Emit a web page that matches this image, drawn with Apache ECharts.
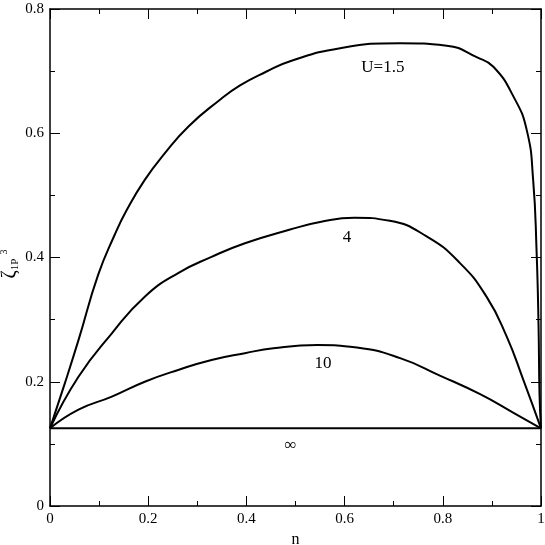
<!DOCTYPE html>
<html>
<head>
<meta charset="utf-8">
<script src="https://cdn.jsdelivr.net/npm/echarts@6/dist/echarts.min.js"></script>
<style>
  html, body { margin: 0; padding: 0; background: #fff; }
  #chart { width: 545px; height: 545px; }
</style>
</head>
<body>
<div id="chart"></div>
<script>
// U = 1.5
const u15N    = [0, 0.03, 0.058, 0.098, 0.132, 0.156, 0.193, 0.234, 0.282, 0.343, 0.387, 0.44, 0.489, 0.591, 0.713, 0.808, 0.87, 0.903, 0.944, 0.971, 0.984, 0.991, 0.995, 0.997, 1];
const u15Zeta = [0.125, 0.197, 0.267, 0.372, 0.437, 0.476, 0.525, 0.568, 0.611, 0.652, 0.677, 0.699, 0.716, 0.737, 0.745, 0.741, 0.722, 0.707, 0.659, 0.605, 0.525, 0.41, 0.29, 0.18, 0.125];
// U = 4
const u4N    = [0, 0.058, 0.126, 0.193, 0.261, 0.329, 0.397, 0.489, 0.55, 0.62, 0.692, 0.767, 0.835, 0.889, 0.93, 0.964, 1];
const u4Zeta = [0.125, 0.208, 0.278, 0.337, 0.375, 0.401, 0.423, 0.445, 0.457, 0.464, 0.459, 0.434, 0.391, 0.337, 0.273, 0.203, 0.125];
// U = 10
const u10N    = [0, 0.058, 0.126, 0.193, 0.261, 0.329, 0.397, 0.455, 0.545, 0.625, 0.713, 0.794, 0.876, 0.944, 1];
const u10Zeta = [0.125, 0.155, 0.176, 0.2, 0.219, 0.235, 0.246, 0.254, 0.259, 0.255, 0.238, 0.21, 0.18, 0.15, 0.125];
// U = infinity
const uInfN    = [0, 1];
const uInfZeta = [0.125, 0.125];

const curveNames = ['U=1.5', '4', '10', '∞'];

const FONT = '"Liberation Serif", "Times New Roman", Times, serif';

function pairs(xs, ys) {
  return xs.map((x, i) => [x, ys[i]]);
}

const chart = echarts.init(document.getElementById('chart'));

const axisLine = { show: true, onZero: false, lineStyle: { color: '#000', width: 1.5 } };
const axisTick = { show: true, inside: true, length: 10, lineStyle: { color: '#000', width: 1 } };
const minorTick = { show: true, splitNumber: 2, length: 5, lineStyle: { color: '#000', width: 1 } };

function curve(name, xs, ys) {
  return {
    name: name,
    type: 'line',
    data: pairs(xs, ys),
    showSymbol: false,
    smooth: 0.5,
    lineStyle: { color: '#000', width: 2 },
    itemStyle: { color: '#000' },
    animation: false
  };
}

chart.setOption({
  animation: false,
  backgroundColor: '#fff',
  grid: { left: 50, right: 4, top: 9, bottom: 39, outerBoundsMode: 'none', containLabel: false },
  xAxis: [{
    type: 'value', min: 0, max: 1, interval: 0.2, position: 'bottom',
    axisLine: axisLine, axisTick: axisTick, minorTick: minorTick,
    splitLine: { show: false },
    axisLabel: { color: '#000', fontFamily: FONT, fontSize: 15, margin: 6 },
    name: 'n', nameLocation: 'middle', nameGap: 22,
    nameTextStyle: { color: '#000', fontFamily: FONT, fontSize: 16 }
  }, {
    type: 'value', min: 0, max: 1, interval: 0.2, position: 'top',
    axisLine: axisLine, axisTick: axisTick, minorTick: minorTick,
    splitLine: { show: false }, axisLabel: { show: false }
  }],
  yAxis: [{
    type: 'value', min: 0, max: 0.8, interval: 0.2, position: 'left',
    axisLine: axisLine, axisTick: axisTick, minorTick: minorTick,
    splitLine: { show: false },
    axisLabel: { color: '#000', fontFamily: FONT, fontSize: 15, margin: 6 }
  }, {
    type: 'value', min: 0, max: 0.8, interval: 0.2, position: 'right',
    axisLine: axisLine, axisTick: axisTick, minorTick: minorTick,
    splitLine: { show: false }, axisLabel: { show: false }
  }],
  series: [
    curve(curveNames[0], u15N, u15Zeta),
    curve(curveNames[1], u4N, u4Zeta),
    curve(curveNames[2], u10N, u10Zeta),
    curve(curveNames[3], uInfN, uInfZeta)
  ]
});

// curve labels placed in data coordinates
const labelSpots = [[0.678, 0.705], [0.605, 0.432], [0.556, 0.229], [0.49, 0.098]];
const texts = curveNames.map((txt, i) => {
  const p = chart.convertToPixel({ xAxisIndex: 0, yAxisIndex: 0 }, labelSpots[i]);
  return {
    type: 'text', x: p[0], y: p[1], silent: true,
    style: {
      text: txt, fill: '#000', font: '17px ' + FONT,
      align: 'center', verticalAlign: 'middle'
    }
  };
});
// y axis title: zeta with subscript 1P and superscript 3
texts.push({
  type: 'text', x: 10, y: 264, rotation: Math.PI / 2, silent: true,
  style: {
    text: '{z|ζ}{s|1P}{p|3}',
    align: 'center', verticalAlign: 'middle',
    rich: {
      z: { fontSize: 20, fontFamily: FONT, fill: '#000', lineHeight: 22, verticalAlign: 'middle' },
      s: { fontSize: 11, fontFamily: FONT, fill: '#000', lineHeight: 22, verticalAlign: 'bottom' },
      p: { fontSize: 10, fontFamily: FONT, fill: '#000', lineHeight: 22, verticalAlign: 'top', padding: [0, 0, 0, 4] }
    }
  }
});
chart.setOption({ graphic: texts });

window.addEventListener('resize', function () { chart.resize(); });
</script>
</body>
</html>
